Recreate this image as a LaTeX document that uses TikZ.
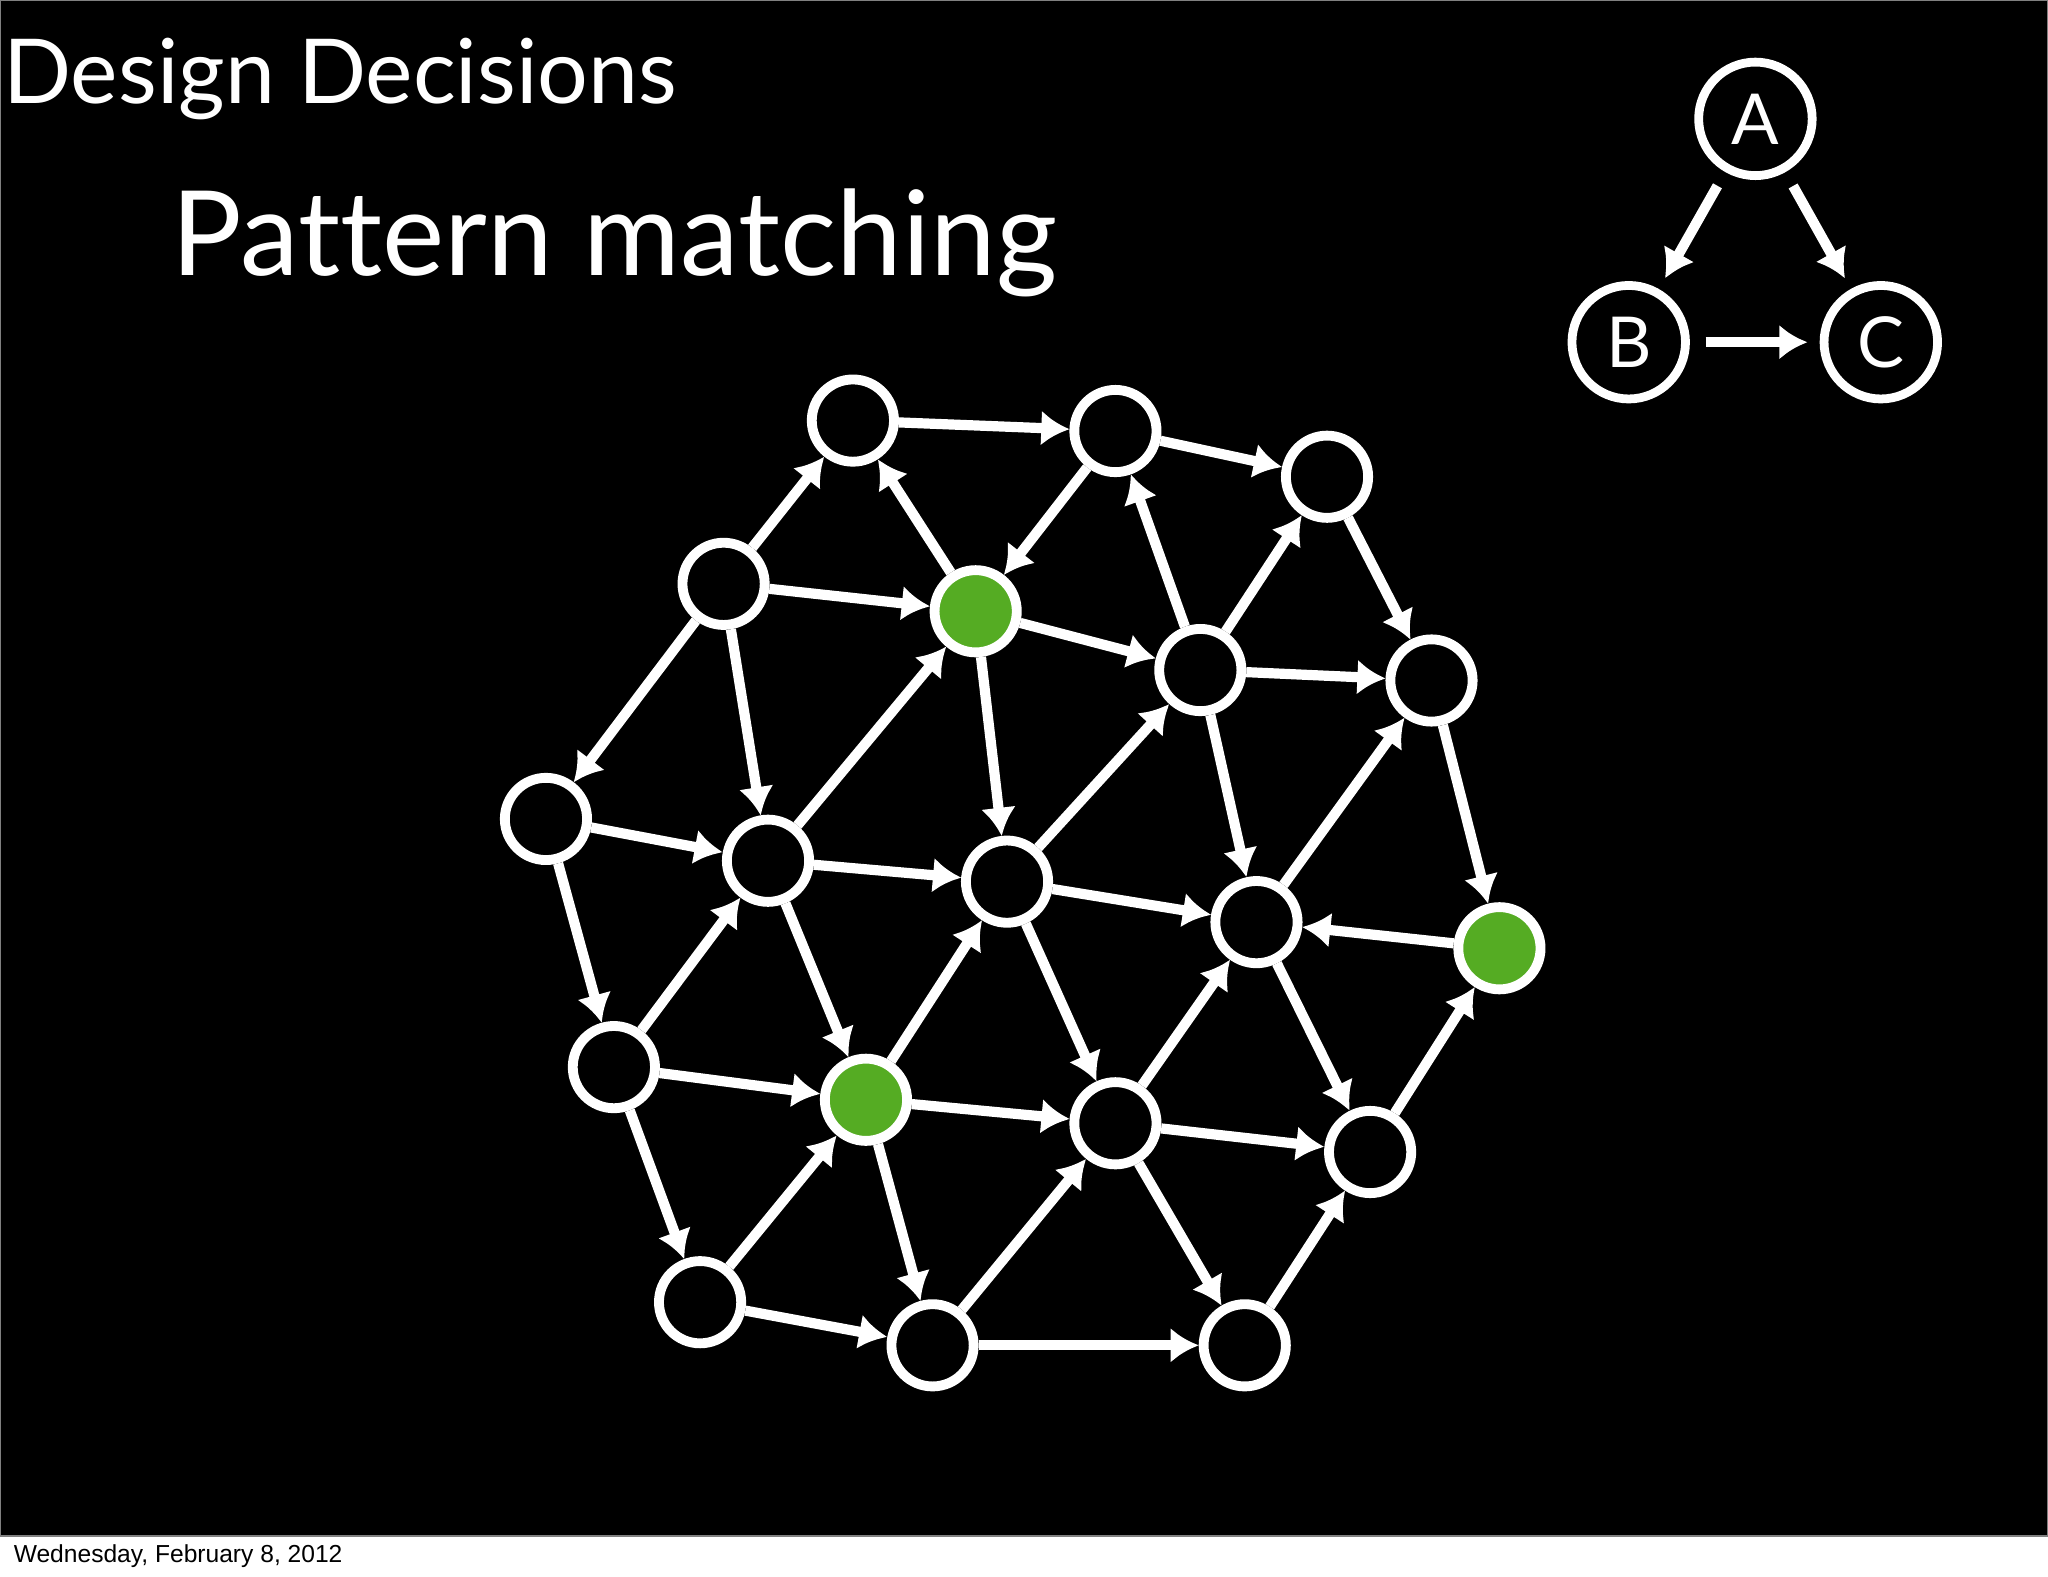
\documentclass[tikz,border=0pt]{standalone}
\usepackage{fontspec}
\setmainfont{Lato}[Ligatures=NoCommon]
\newfontfamily\datefont{Liberation Sans}
\usetikzlibrary{arrows.meta}
\definecolor{matchgreen}{RGB}{85,172,35}
\tikzset{
  vtx/.style={circle,draw=white,line width=2.8pt,minimum size=23.4pt,inner sep=0pt,fill=black},
  hit/.style={vtx,fill=matchgreen},
  edge/.style={white,line width=2.9pt,-{Latex[length=8pt,width=10pt]}},
  pat/.style={circle,draw=white,line width=2.5pt,minimum size=32.3pt,inner sep=0pt,text=white,font=\fontsize{20}{20}\selectfont},
  patedge/.style={edge,shorten <=4.5pt,shorten >=3.5pt},
  label/.style={anchor=base west,inner sep=0pt}
}
\begin{document}
\begin{tikzpicture}[x=0.0130612cm,y=-0.0130612cm]
\useasboundingbox (0,0) rectangle (1568,1207);
\fill[white] (0,0) rectangle (1568,1207);
\draw[fill=black,draw=gray,line width=0.6pt] (0,0) rectangle (1568,1176);

\node[label,text=white,font=\fontsize{25.5}{26}\selectfont] (design) at (2,79) {Design Decisions};
\node[label,text=white,font=\fontsize{33.5}{34}\selectfont] (title) at (131,211) {Pattern matching};
\node[label,font=\datefont\fontsize{7}{8}\selectfont] (date) at (10,1196) {Wednesday, February 8, 2012};

% the pattern
\node[pat] (A) at (1344,91) {A};
\node[pat] (B) at (1247,262) {B};
\node[pat] (C) at (1440,262) {C};
\draw[patedge] (A) -- (B);
\draw[patedge] (A) -- (C);
\draw[patedge] (B) -- (C);

% the graph
\foreach \x/\y/\s [count=\n] in {653/322/vtx,854/330/vtx,1016/365/vtx,554/447/vtx,747/468/hit,
    919/513/vtx,1096/521/vtx,418/627/vtx,588/659/vtx,771/675/vtx,962/706/vtx,1148/726/hit,
    470/817/vtx,663/842/hit,854/860/vtx,1049/882/vtx,536/997/vtx,714/1030/vtx,953/1030/vtx}
  \node[\s] (N\n) at (\x,\y) {};

\foreach \a/\b in {1/2,2/3,4/1,5/1,2/5,6/2,6/3,3/7,4/5,5/6,6/7,4/8,4/9,9/5,5/10,10/6,6/11,
    11/7,7/12,8/9,9/10,10/11,12/11,8/13,13/9,9/14,14/10,10/15,15/11,11/16,16/12,13/14,14/15,
    15/16,13/17,17/14,14/18,18/15,15/19,19/16,17/18,18/19}
  \draw[edge] (N\a) -- (N\b);
\end{tikzpicture}
\end{document}
